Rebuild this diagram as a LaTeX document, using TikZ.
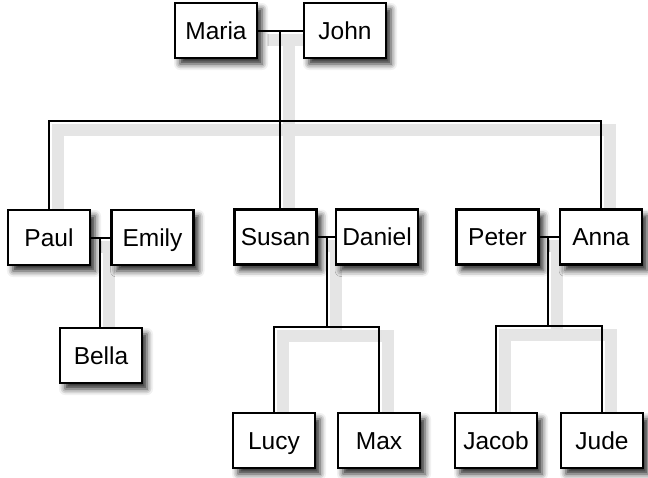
\documentclass[tikz,border=0pt]{standalone}
\usepackage{fontspec}
\setmainfont{Liberation Sans}
\usetikzlibrary{shadows.blur}
\pgfdeclarelayer{background}
\pgfsetlayers{background,main}
\newcommand\familylines[1]{%
  \draw[#1] (Maria) -- (John);
  \draw[#1] (mj) -- (bar);
  \draw[#1] (Paul.north) |- (bar) -| (Anna.north);
  \draw[#1] (bar) -- (bar |- Susan.north);
  \draw[#1] (Paul) -- (Emily);
  \draw[#1] (pe) -- (pe |- Bella.north);
  \draw[#1] (Susan) -- (Daniel);
  \draw[#1] (sd) -- (sdbar);
  \draw[#1] (Lucy.north) |- (sdbar) -| (Max.north);
  \draw[#1] (Peter) -- (Anna);
  \draw[#1] (pa) -- (pabar);
  \draw[#1] (Jacob.north) |- (pabar) -| (Jude.north);
}
\begin{document}
\begin{tikzpicture}[x=1pt,y=-1pt,
  person/.style={draw=black, line width=2.3pt, fill=white, minimum width=82pt, minimum height=55pt,
    inner sep=0pt, text height=17.5pt, text depth=0.5pt, font=\fontsize{24.5}{26}\selectfont,
    blur shadow={shadow xshift=5pt, shadow yshift=-6pt, shadow blur radius=6pt, shadow opacity=85}},
  link/.style={line width=2pt, black},
  linkshadow/.style={line width=12pt, draw=black!10, transform canvas={shift={(9,9)}}}]
\useasboundingbox (0,0) rectangle (648,477);
\node[person] (Maria) at (216,30.5) {Maria};
\node[person] (John) at (345,30.5) {John};
\node[person] (Paul) at (49,237.5) {Paul};
\node[person] (Emily) at (152.5,237.5) {Emily};
\node[person] (Bella) at (101,355.5) {Bella};
\node[person] (Susan) at (275.5,237) {Susan};
\node[person] (Daniel) at (377,237) {Daniel};
\node[person] (Peter) at (497.5,237) {Peter};
\node[person] (Anna) at (601,237) {Anna};
\node[person] (Lucy) at (274,440.5) {Lucy};
\node[person] (Max) at (379,440.5) {Max};
\node[person] (Jacob) at (496,440.5) {Jacob};
\node[person] (Jude) at (602,440.5) {Jude};
\coordinate (mj) at (280,30.5);
\coordinate (bar) at (280,121);
\coordinate (pe) at (100,237.5);
\coordinate (sd) at (327,237);
\coordinate (sdbar) at (327,327);
\coordinate (pa) at (548,237);
\coordinate (pabar) at (548,326);
\begin{pgfonlayer}{background}
  \familylines{linkshadow}
\end{pgfonlayer}
\familylines{link}
\end{tikzpicture}
\end{document}
